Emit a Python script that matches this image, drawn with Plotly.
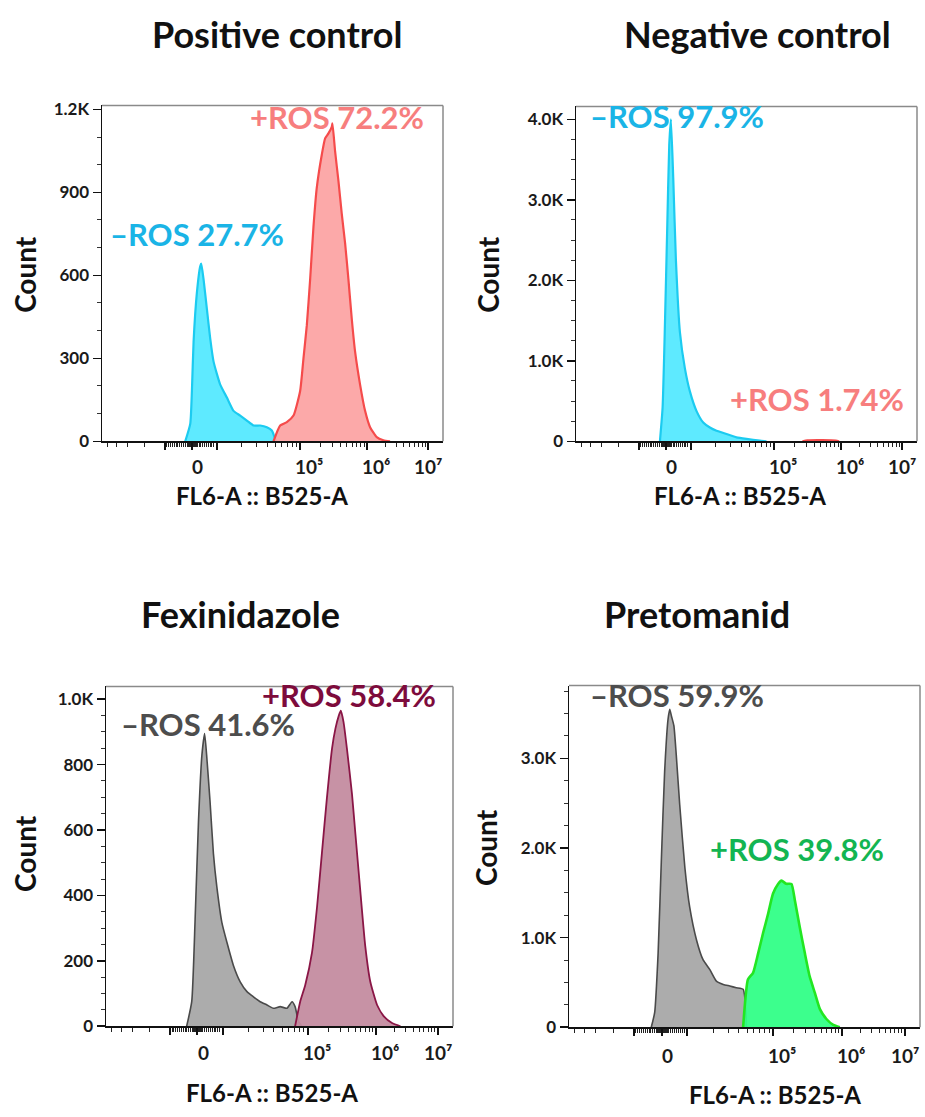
import numpy as np
import plotly.graph_objects as go

W, H = 925, 1117
FONT = "Lato"

# ---------------- data (x = display channel 0-1024 on biexponential axis, y = count) ----------------
pos_neg_x = [250, 265, 270, 275, 285, 295, 298, 305, 315, 325, 335, 355, 375, 395, 415, 435, 455, 475, 495, 510, 520, 525]
pos_neg_y = [0, 63, 182, 360, 538, 633, 642, 585, 478, 371, 288, 205, 158, 110, 93, 75, 57, 57, 51, 39, 9, 0]
pos_pos_x = [515, 535, 555, 575, 595, 605, 615, 625, 635, 645, 660, 670, 680, 690, 692, 700, 710, 720, 730, 740, 750, 760, 775, 790, 805, 825, 845, 865]
pos_pos_y = [0, 57, 69, 93, 182, 300, 419, 585, 775, 917, 1036, 1095, 1113, 1137, 1149, 1048, 941, 822, 716, 585, 443, 324, 205, 110, 51, 15, 4, 0]

ctl_neg_x = [252, 260, 267, 274, 280, 285, 292, 300, 312, 327, 342, 362, 382, 402, 422, 452, 482, 512, 552, 572]
ctl_neg_y = [0, 416, 1437, 2661, 3682, 4000, 3273, 2253, 1355, 906, 620, 375, 233, 171, 131, 90, 49, 29, 8, 0]
ctl_pos_x = [680, 695, 740, 780, 790]
ctl_pos_y = [0, 12, 15, 10, 0]

fex_neg_x = [238, 253, 263, 273, 283, 291, 297, 307, 317, 327, 342, 357, 376, 396, 416, 435, 455, 475, 494, 514, 534, 549, 558, 568, 578]
fex_neg_y = [0, 75, 327, 628, 829, 895, 829, 688, 528, 427, 317, 256, 186, 136, 106, 90, 75, 65, 55, 60, 55, 75, 60, 15, 0]
fex_pos_x = [558, 573, 588, 608, 623, 637, 652, 667, 677, 687, 693, 701, 711, 726, 736, 751, 765, 780, 800, 820, 844, 869]
fex_pos_y = [0, 75, 126, 226, 367, 528, 699, 849, 910, 950, 965, 930, 849, 709, 588, 407, 246, 136, 65, 30, 10, 0]

pre_neg_x = [240, 250, 260, 270, 279, 289, 294, 299, 306, 313, 323, 338, 352, 372, 391, 411, 430, 450, 469, 488, 508, 518]
pre_neg_y = [0, 165, 827, 1930, 2849, 3437, 3548, 3470, 3364, 3033, 2482, 1783, 1342, 974, 754, 643, 515, 478, 460, 441, 423, 0]
pre_pos_x = [508, 522, 537, 552, 566, 581, 595, 610, 620, 634, 649, 659, 673, 688, 702, 717, 732, 751, 771, 790]
pre_pos_y = [0, 533, 607, 827, 1048, 1268, 1489, 1599, 1636, 1600, 1599, 1415, 1121, 827, 570, 386, 202, 92, 26, 0]

titles = ["Positive control", "Negative control", "Fexinidazole", "Pretomanid"]
x_title = "FL6-A :: B525-A"
y_title = "Count"
x_tick_labels = ["0", "10⁵", "10⁶", "10⁷"]
x_label_pos = [288, 622, 822, 980]

y_major = [[0, 300, 600, 900, 1200], [0, 1000, 2000, 3000, 4000],
           [0, 200, 400, 600, 800, 1000], [0, 1000, 2000, 3000]]
y_major_text = [["0", "300", "600", "900", "1.2K"], ["0", "1.0K", "2.0K", "3.0K", "4.0K"],
                ["0", "200", "400", "600", "800", "1.0K"], ["0", "1.0K", "2.0K", "3.0K"]]
y_minor_step = [100, 250, 50, 250]
y_max = [1214, 4159, 1039, 3813]

pct_labels = [
    [("+ROS 72.2%", "#f77e7e", 337, 112), ("–ROS 27.7%", "#1ab4e6", 197, 231)],
    [("–ROS 97.9%", "#1ab4e6", 677, 111), ("+ROS 1.74%", "#f77e7e", 817, 398)],
    [("+ROS 58.4%", "#7d0b3c", 349, 699), ("–ROS 41.6%", "#4d4d4d", 208, 728)],
    [("–ROS 59.9%", "#4d4d4d", 677, 699), ("+ROS 39.8%", "#13b552", 797, 855)],
]

# ---------------- styling ----------------
BLUE = dict(line="#1ccbf0", fill="rgba(80,232,255,0.92)")
RED = dict(line="#f54b4b", fill="rgba(252,164,164,0.95)")
GRAY = dict(line="#4a4a4a", fill="rgba(168,168,168,0.95)")
MAROON = dict(line="#8a1646", fill="rgba(196,140,160,0.95)")
GREEN = dict(line="#22e622", fill="rgba(50,255,135,0.95)")

series = [
    [(pos_neg_x, pos_neg_y, BLUE, 2.2), (pos_pos_x, pos_pos_y, RED, 2.2)],
    [(ctl_neg_x, ctl_neg_y, BLUE, 2.2), (ctl_pos_x, ctl_pos_y, RED, 2.2)],
    [(fex_neg_x, fex_neg_y, GRAY, 1.6), (fex_pos_x, fex_pos_y, MAROON, 1.8)],
    [(pre_neg_x, pre_neg_y, GRAY, 1.6), (pre_pos_x, pre_pos_y, GREEN, 2.6)],
]

# panel frames in pixels: left, right, top, bottom
frames = [(102, 443, 100, 441), (576, 917, 101, 441), (106, 453, 690, 1035), (569, 920, 689, 1036)]
title_pos = [(277, 27), (757, 27), (240, 616), (697, 616)]
xtitle_pos = [(262, 496), (740, 496), (272, 1102), (775, 1104)]
ytitle_pos = [(25, 272), (488, 272), (25, 860), (486, 853)]
xlabel_y = [467, 467, 1062, 1065]

x_major = [189, 270, 345, 595, 796, 979]
x_minor = [15, 45, 78, 129]
x_minor += list(np.arange(195, 256, 5.5))
x_minor += list(np.arange(257, 284, 1.2))
x_minor += list(np.arange(286, 341, 5.5))
for a, b in [(345, 595), (595, 796), (796, 979)]:
    x_minor += [a + np.log10(k) * (b - a) for k in range(2, 10)]
x_minor = [float(v) for v in x_minor]


def px(x):
    return x / W


def py(y):
    return 1 - y / H


fig = go.Figure()
annotations = []
shapes = []
layout = {}

for i in range(4):
    n = "" if i == 0 else str(i + 1)
    xa, ya = "x" + n, "y" + n
    l, r, t, b = frames[i]
    for xs, ys, c, lw in series[i]:
        fig.add_trace(go.Scatter(
            x=xs, y=ys, xaxis=xa, yaxis=ya, mode="lines",
            line=dict(color=c["line"], width=lw, shape="spline", smoothing=0.5),
            fill="tozeroy", fillcolor=c["fill"], showlegend=False, hoverinfo="skip"))
    layout["xaxis" + n] = dict(
        domain=[px(l), px(r)], anchor=ya, range=[0, 1024], showgrid=False, zeroline=False,
        showline=True, linecolor="#111", linewidth=2,
        tickmode="array", tickvals=x_major,
        ticks="outside", ticklen=7, tickwidth=2, tickcolor="#111", showticklabels=False,
        minor=dict(tickmode="array", tickvals=x_minor, ticks="outside", ticklen=4,
                   tickwidth=1, tickcolor="#222", showgrid=False),
        fixedrange=True)
    ym = y_max[i]
    layout["yaxis" + n] = dict(
        domain=[py(b), py(t)], anchor=xa, range=[0, ym], showgrid=False, zeroline=False,
        showline=True, linecolor="#111", linewidth=1.5,
        tickmode="array", tickvals=y_major[i], ticktext=y_major_text[i],
        ticks="outside", ticklen=8, tickwidth=1.5, tickcolor="#111",
        tickfont=dict(family=FONT, size=17, color="#1a1a1a", weight="bold"),
        minor=dict(tickmode="array",
                   tickvals=[float(v) for v in np.arange(0, ym, y_minor_step[i]) if v not in y_major[i]],
                   ticks="outside", ticklen=4, tickwidth=1, tickcolor="#333", showgrid=False),
        fixedrange=True)
    # gray top/right frame
    shapes.append(dict(type="line", xref=xa + " domain", yref=ya + " domain", x0=0, x1=1, y0=1, y1=1,
                       line=dict(color="#8a8a8a", width=1.5)))
    shapes.append(dict(type="line", xref=xa + " domain", yref=ya + " domain", x0=1, x1=1, y0=0, y1=1,
                       line=dict(color="#8a8a8a", width=1.5)))
    # x tick labels
    for txt, xv in zip(x_tick_labels, x_label_pos):
        annotations.append(dict(text=txt, x=xv, xref=xa, y=py(xlabel_y[i]), yref="paper",
                                showarrow=False, xanchor="center", yanchor="middle",
                                font=dict(family=FONT, size=19, color="#1a1a1a", weight="bold")))
    # titles
    tx, ty = title_pos[i]
    annotations.append(dict(text=titles[i], x=px(tx), y=py(ty), xref="paper", yref="paper",
                            showarrow=False, xanchor="center", yanchor="middle",
                            font=dict(family=FONT, size=36, color="#111", weight="bold")))
    tx, ty = xtitle_pos[i]
    annotations.append(dict(text=x_title, x=px(tx), y=py(ty), xref="paper", yref="paper",
                            showarrow=False, xanchor="center", yanchor="middle",
                            font=dict(family=FONT, size=24, color="#111", weight="bold")))
    tx, ty = ytitle_pos[i]
    annotations.append(dict(text=y_title, x=px(tx), y=py(ty), xref="paper", yref="paper",
                            showarrow=False, xanchor="center", yanchor="middle", textangle=-90,
                            font=dict(family=FONT, size=28, color="#111", weight="bold")))
    for txt, col, tx, ty in pct_labels[i]:
        annotations.append(dict(text=txt, x=px(tx), y=py(ty), xref="paper", yref="paper",
                                showarrow=False, xanchor="center", yanchor="middle",
                                font=dict(family=FONT, size=31, color=col, weight="bold")))

fig.update_layout(width=W, height=H, margin=dict(l=0, r=0, t=0, b=0),
                  paper_bgcolor="white", plot_bgcolor="white",
                  annotations=annotations, shapes=shapes, **layout)
fig.write_html("out.html", config={"displayModeBar": False, "staticPlot": True},
               post_script="document.body.style.margin='0px';document.body.style.padding='0px';"
                           "document.body.style.overflow='hidden';")
